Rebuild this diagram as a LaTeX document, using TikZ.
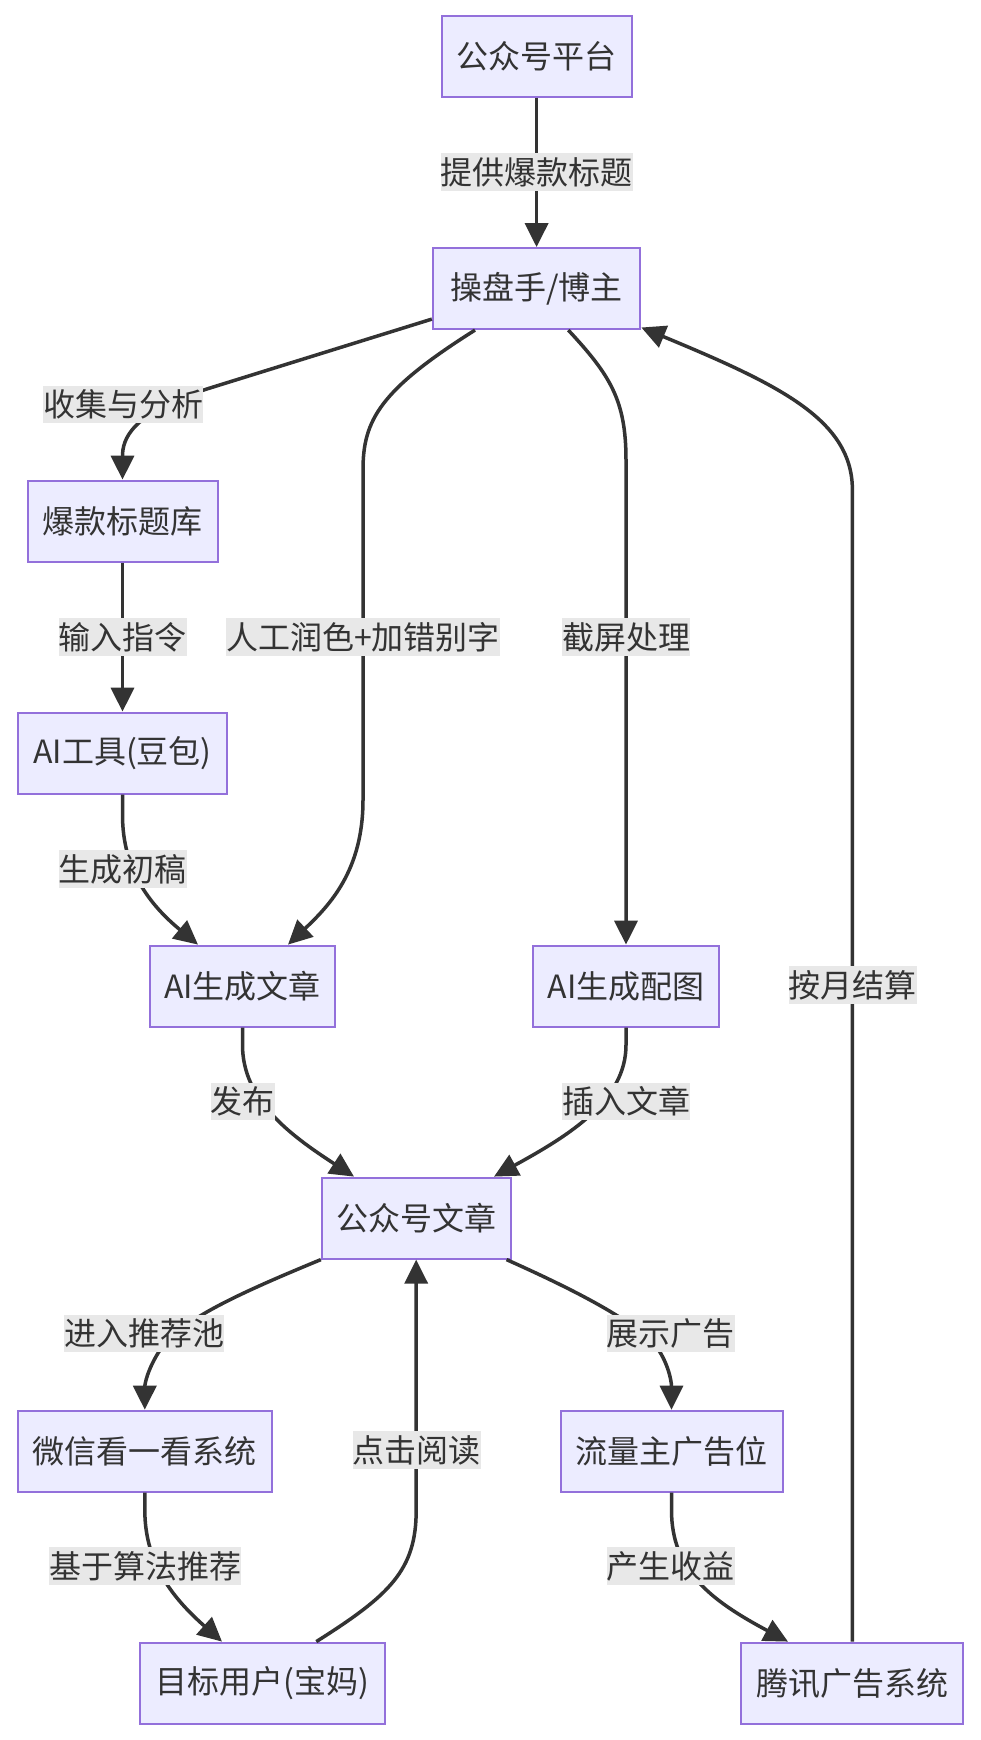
\documentclass[tikz,border=0pt]{standalone}
\usepackage{fontspec}
\newfontfamily\cjk{Noto Sans CJK SC}
\usetikzlibrary{arrows.meta,calc}
\definecolor{nodefill}{HTML}{ECECFF}
\definecolor{nodeborder}{HTML}{9370DB}
\definecolor{ink}{HTML}{333333}
\definecolor{lblbg}{HTML}{E8E8E8}
\begin{document}
\begin{tikzpicture}[x=0.5pt,y=-0.5pt,
  box/.style={draw=nodeborder, fill=nodefill, line width=1pt, minimum height=40.5pt, inner sep=0pt, text=ink, font=\cjk\fontsize{16pt}{19pt}\selectfont},
  lbl/.style={fill=lblbg, inner sep=0pt, minimum height=18.75pt, text=ink, font=\cjk\fontsize{16pt}{19pt}\selectfont},
  edge/.style={draw=ink, line width=1.75pt, -{Triangle[length=12pt,width=11.5pt]}}
]
\useasboundingbox (0,0) rectangle (980,1740);
\fill[white] (0,0) rectangle (980,1740);

% nodes
\node[box, minimum width=95pt] (A) at (536.6,56) {公众号平台};
\node[box, minimum width=103.75pt] (B) at (536.6,288.6) {操盘手/博主};
\node[box, minimum width=95pt] (C) at (122.5,521.1) {爆款标题库};
\node[box, minimum width=104.3pt] (D) at (122.5,753.1) {AI工具(豆包)};
\node[box, minimum width=92.7pt] (E) at (242.5,986.1) {AI生成文章};
\node[box, minimum width=93.2pt] (F) at (626,986.1) {AI生成配图};
\node[box, minimum width=94.35pt] (G) at (416.2,1218.1) {公众号文章};
\node[box, minimum width=127pt] (H) at (144.8,1451.2) {微信看一看系统};
\node[box, minimum width=111pt] (I) at (671.5,1451.2) {流量主广告位};
\node[box, minimum width=122.65pt] (J) at (262.5,1683.1) {目标用户(宝妈)};
\node[box, minimum width=111pt] (K) at (852.4,1683.1) {腾讯广告系统};

% edges
\draw[edge] (A.south) -- (B.north);
\draw[edge] ($(B.south west)+(0,-11)$) -- (210,388) .. controls (130,413) and ($(C.north)+(0,-40)$) .. (C.north);
\draw[edge] ($(B.south)+(-61.6,0)$) .. controls (380,390) and (363,420) .. (363,470) -- (363,800) .. controls (363,870) and (330,905) .. ($(E.north)+(45.5,0)$);
\draw[edge] ($(B.south)+(31.7,0)$) .. controls (610,375) and (626,400) .. (626,460) -- (F.north);
\draw[edge] (K.north) -- (852.4,490) .. controls (852.4,420) and (780,385) .. ($(B.south east)+(0,-2.6)$);
\draw[edge] (C.south) -- (D.north);
\draw[edge] (D.south) -- (122.5,815) .. controls (122.5,870) and (150,905) .. ($(E.north)+(-44.5,0)$);
\draw[edge] (E.south) -- (242.5,1045) .. controls (242.5,1100) and (290,1135) .. ($(G.north)+(-62.2,0)$);
\draw[edge] (F.south) -- (626,1045) .. controls (626,1100) and (570,1135) .. ($(G.north)+(77.8,0)$);
\draw[edge] (G.south west) .. controls (240,1293) and (180,1320) .. (160,1350) .. controls (147,1370) and ($(H.north)+(0,-25)$) .. (H.north);
\draw[edge] ($(G.south east)+(-5,0)$) .. controls (570,1288) and (630,1318) .. (655,1345) .. controls (667,1360) and ($(I.north)+(0,-30)$) .. (I.north);
\draw[edge] ($(J.north)+(53.8,0)$) .. controls (390,1595) and (416.2,1570) .. (416.2,1510) -- (G.south);
\draw[edge] (H.south) -- (144.8,1510) .. controls (144.8,1565) and (175,1600) .. ($(J.north)+(-40.5,0)$);
\draw[edge] (I.south) -- (671.5,1510) .. controls (671.5,1570) and (710,1600) .. ($(K.north)+(-64.4,0)$);

% labels
\node[lbl] (l1) at (536.6,172) {提供爆款标题};
\node[lbl] (l2) at (123.2,404.7) {收集与分析};
\node[lbl] (l3) at (122.5,637) {输入指令};
\node[lbl] (l4) at (362.9,637) {人工润色+加错别字};
\node[lbl] (l5) at (626,637) {截屏处理};
\node[lbl] (l6) at (122.5,869) {生成初稿};
\node[lbl] (l7) at (852.9,985) {按月结算};
\node[lbl] (l8) at (242.5,1101.6) {发布};
\node[lbl] (l9) at (626,1101.6) {插入文章};
\node[lbl] (l10) at (144.3,1333.5) {进入推荐池};
\node[lbl] (l11) at (670.9,1333.5) {展示广告};
\node[lbl] (l12) at (416.8,1450) {点击阅读};
\node[lbl] (l13) at (145.4,1566) {基于算法推荐};
\node[lbl] (l14) at (670.9,1566) {产生收益};
\end{tikzpicture}
\end{document}
